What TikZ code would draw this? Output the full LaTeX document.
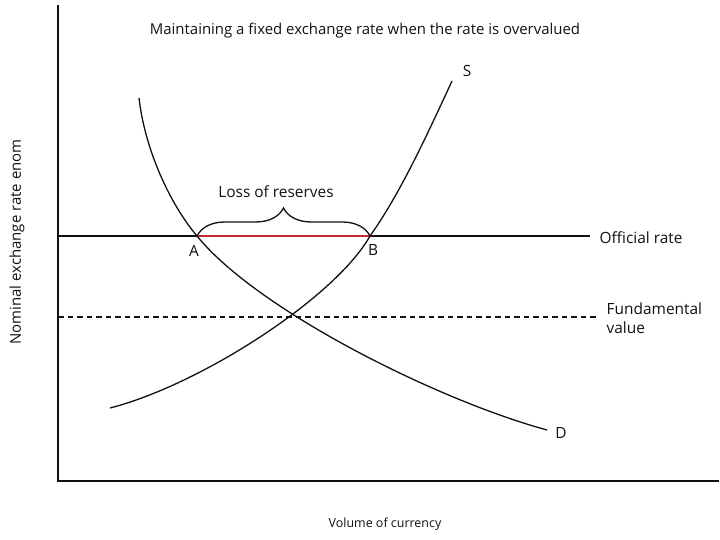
\documentclass[tikz,border=0pt]{standalone}
\usepackage{fontspec}
\setmainfont{Open Sans}
\usetikzlibrary{decorations.pathreplacing}
\definecolor{lossred}{HTML}{C02A30}
\definecolor{axisink}{HTML}{111111}

\begin{document}
\begin{tikzpicture}[x=1bp, y=-1bp, line width=1.3bp, draw=axisink,
  lbl/.style={font=\fontsize{15.5}{19}\selectfont, inner sep=0pt, text=axisink},
  small/.style={font=\fontsize{12.5}{15}\selectfont, inner sep=0pt, text=axisink}]
  \useasboundingbox (0,0) rectangle (720,540);
  % axes
  \coordinate (top) at (58,5);
  \coordinate (origin) at (58,481);
  \coordinate (right) at (719,481);
  \draw[line width=1.8bp] (top) -- (origin) -- (right);
  \node[lbl, font=\fontsize{15}{18}\selectfont] (title) at (365,31) {Maintaining a fixed exchange rate when the rate is overvalued};
  \node[lbl, font=\fontsize{15}{18}\selectfont, rotate=90] (ylab) at (17,242) {Nominal exchange rate enom};
  \node[small] (xlab) at (385,524) {Volume of currency};
  % rates
  \coordinate (offL) at (58,236);
  \coordinate (offR) at (590,236);
  \coordinate (fundL) at (58,317);
  \coordinate (fundR) at (597,317);
  \coordinate (A) at (197,236);
  \coordinate (B) at (370,236);
  \draw (offL) -- (offR);
  \draw[dash pattern=on 5.5bp off 4bp] (fundL) -- (fundR);
  \draw[lossred, line width=1.6bp] (A) -- (B);
  \node[lbl, anchor=west] (official) at (599,238) {Official rate};
  \node[lbl, anchor=west, align=left] (fundamental) at (606,318) {Fundamental\\ value};
  % demand and supply
  \coordinate (Dtop) at (139,98);
  \coordinate (Dend) at (547,430);
  \coordinate (Sstart) at (110,408);
  \coordinate (Send) at (452,81);
  \draw (Dtop) .. controls (145,150) and (170,204) .. (A)
    .. controls (257,310) and (437,400) .. (Dend);
  \draw (Sstart) .. controls (200,385) and (335,298) .. (B)
    .. controls (400,194) and (427,135) .. (Send);
  \node[lbl] (D) at (561,433) {D};
  \node[lbl] (S) at (467,71) {S};
  \node[lbl] (Alab) at (194,251) {A};
  \node[lbl] (Blab) at (373,250) {B};
  % loss of reserves
  \draw[decorate, decoration={brace, amplitude=28bp}] (A) -- (B);
  \node[lbl] (loss) at (276,192) {Loss of reserves};
\end{tikzpicture}
\end{document}
